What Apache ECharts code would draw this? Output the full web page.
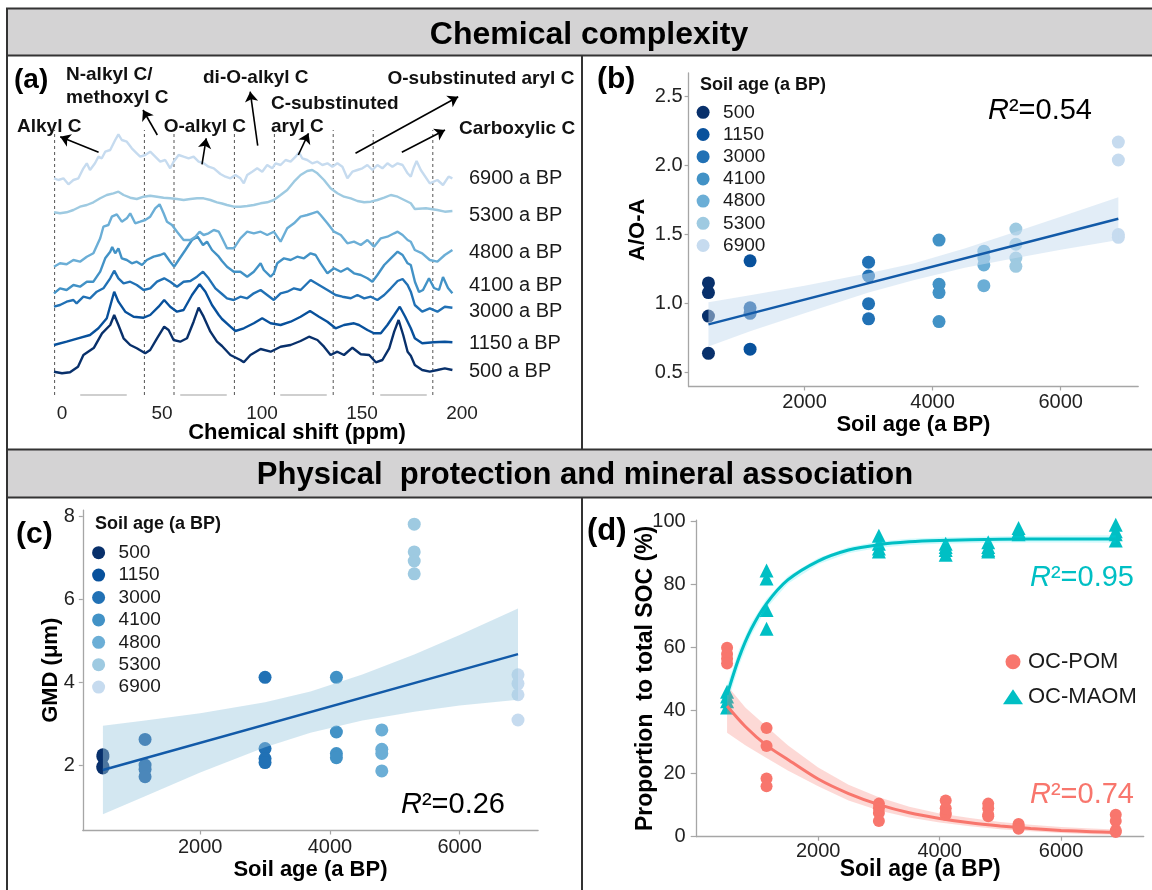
<!DOCTYPE html>
<html>
<head>
<meta charset="utf-8">
<title>Chemical complexity / physical protection</title>
<script src="https://cdn.jsdelivr.net/npm/echarts@6.0.0/dist/echarts.min.js"></script>
<style>
  html, body { margin: 0; padding: 0; background: #fff; }
  #chart { width: 1152px; height: 890px; }
</style>
</head>
<body>
<div id="chart"></div>
<script>
// ---- data ----
const ages = [500, 1150, 3000, 4100, 4800, 5300, 6900];
const ageNames = ages.map(String);
const blues = ['#08306b', '#08519c', '#2171b5', '#4292c6', '#6baed6', '#9ecae1', '#c6dbef'];

// (a) 13C NMR spectra, [ppm, relative intensity incl. stacking offset]
const spec500 = [[-4,28.3],[0,26.7],[4,27.7],[8,33.3],[10.7,45],[16,52.3],[20,66.7],[24.1,75],[26.1,85],[28.2,75],[30.8,61.7],[34.1,55],[37.4,51.7],[41.6,46.7],[44.1,50],[47.5,61.7],[51.1,73.3],[53.3,70],[55.8,60],[59.1,58.3],[62.5,61.7],[65.8,78.3],[68.3,92.3],[70.8,83.3],[74.2,68.3],[77.5,58.3],[80,54],[84.2,45],[89.2,40],[90.9,37.7],[94.2,45],[99.3,51],[104.3,48.3],[109.3,53.3],[114.3,55],[119.3,59],[123.5,63.3],[127.7,60],[131,53.3],[134.3,45],[137.7,48.3],[141,45],[145.2,52.3],[149.4,45.7],[153.6,45],[156.9,37.7],[160.2,40],[163.6,51.7],[166.1,68.3],[168.3,80],[170.6,65],[172.8,48.3],[174.4,44.3],[176.4,35],[180.1,30],[183.9,28.3],[187.7,30],[191.4,31.7],[195.2,30]];
const spec1150 = [[-4,55],[2.3,58.3],[8,61.7],[14,65],[18.2,71.7],[22.4,81.7],[24.7,98.3],[26.1,108.3],[28.2,98.3],[31.6,88.3],[35.8,83.3],[40.8,82.3],[44.1,85],[48.3,93.3],[51.1,100],[54.1,93.3],[57.5,88.3],[60.8,90],[65,105],[68.8,115.7],[71.7,108.3],[75,95],[78.4,85],[80,81],[84.2,73.3],[86.7,69],[90.9,71.7],[95.9,76.7],[100.1,81.7],[104.3,76.7],[109.3,75],[114.3,78.3],[119.3,83.3],[124,89],[128.5,83.3],[132.7,78.3],[136.8,71.7],[141,75],[146,76.7],[148.5,75],[152.7,70],[156,66.7],[159.4,66.7],[162.7,75],[166.1,85],[168.9,93.3],[171.6,83.3],[174.4,71.7],[176.4,61.7],[180.1,56.7],[185.8,57.7],[191.4,58.3],[195.2,57.7]];
const spec3000 = [[-4,93.3],[-1,95],[2.3,98.3],[5.7,100],[7.3,96.7],[10.7,103.3],[14,101.7],[17.4,108.3],[20.7,111.7],[24.1,121.7],[26.1,129.3],[28.2,121.7],[30.8,116.7],[34.1,118.3],[37.4,115],[40.8,110],[44.1,111.7],[47.5,118.3],[51.1,121.7],[54.1,118.3],[57.5,113.3],[60.8,118.3],[64.2,119],[67.5,123.3],[70.5,128.3],[73.3,121.7],[76.7,111.7],[80,106],[82.5,101.7],[85.9,100],[89.2,103.3],[92.6,101.7],[95.9,106.7],[99.3,110],[102.6,105],[105.9,100],[109.3,106.7],[112.6,108.3],[116,111.7],[119.3,110],[124.3,120],[128.5,115],[132.7,110],[136.8,105],[140.2,103.3],[144.4,101.7],[147.7,105],[151.1,101.7],[154.4,103.3],[157.7,100],[161.1,105],[164.4,111.7],[167.8,119],[170.3,121],[172.8,115],[174.4,108.3],[176.4,95],[180.1,88.3],[183.9,91.7],[187.7,88.3],[191.4,93.3],[195.2,92.3]];
const spec4100 = [[-4,106.7],[-1,111.7],[2.3,110],[5.7,115],[9,113.3],[12.4,118.3],[15.7,118.3],[19.1,128.3],[21.6,141.7],[24.1,148.3],[25.1,153],[26.6,146.7],[28.2,151.7],[29.9,141.7],[32.4,140],[34.9,136.7],[37.4,138.3],[40,135],[42.4,140],[45.8,143.3],[49.1,145],[51.1,146.7],[54.1,138.3],[56.1,133.3],[58.3,140],[61.7,150],[65,160],[67.8,163.3],[70.5,155],[72.5,158.3],[75,150],[78.4,143.3],[80,139],[82.5,133.3],[85.9,128.3],[89.2,128.3],[92.6,123.3],[95.9,128.3],[99.3,136.7],[100.9,130],[104.3,123.3],[105.9,126.7],[107.6,136.7],[111,141.7],[114.3,140],[117.6,143.3],[121,141.7],[124.3,146.7],[126.8,145],[129.3,136.7],[132.7,126.7],[136,131.7],[139.4,128.3],[142.7,131.7],[146,126.7],[149.4,125],[152.7,121.7],[155.2,118.3],[157.7,125],[161.1,135],[164.4,141.7],[167.8,148.3],[170.3,145],[172.8,136.7],[174.4,135],[176.5,118],[178.5,108],[180.5,110],[183.5,121.7],[186,112],[188.5,110],[190.5,123],[193,112],[195.2,106.7]];
const spec4800 = [[-4,133.3],[-1,136.7],[2.3,135.7],[5.7,140],[9,138.3],[12.4,143.3],[15.7,146.7],[19.1,161.7],[20.7,173.3],[23.2,175],[24.9,183.3],[27.4,185.7],[29.9,178.3],[32.4,181.7],[34.1,186.7],[36.6,176.7],[39.1,178.3],[41.6,180],[44.1,183.3],[46.6,191.7],[48.8,195.7],[50.8,186.7],[52.5,178.3],[55,175],[57.5,168.3],[60.8,160],[64.2,160],[66.7,163.3],[68.8,168.3],[70.8,165],[73.3,166.7],[75.9,170],[78.4,168.3],[80,162],[82.5,151.7],[85.9,151.7],[89.2,161.7],[92.6,168.3],[95.9,166.7],[99.3,168.3],[102.6,165],[105.9,168.3],[109.3,158.3],[112.6,171.7],[116,176.7],[119.3,183.3],[122.6,185],[125.1,186.7],[127.7,188.3],[129.3,185],[132.7,176.7],[136,168.3],[139.4,165],[142.7,156.7],[146,158.3],[149.4,155],[152.7,160],[156,153.3],[159.4,161.7],[162.7,163.3],[166.1,166.7],[167.8,168.3],[170.3,165],[172.8,160],[174.4,158.3],[176.4,150],[180.1,146.7],[183.9,140],[187.7,138.3],[191.4,145],[195.2,150]];
const spec5300 = [[-4,187.7],[-1,186.7],[2.3,187.7],[5.7,190],[9,193.3],[12.4,195],[15.7,197.7],[19.1,201.7],[22.4,205],[25.7,206.7],[28.2,208.3],[30.8,205],[34.1,202.3],[37.4,201],[40.8,203.3],[44.1,204.3],[47.5,203.3],[50.8,202.3],[54.1,201.7],[57.5,201],[60.8,200],[64.2,201],[67.5,201.7],[70.8,201.7],[74.2,200],[77.5,197.7],[80,196.5],[82.5,195],[85.9,193.3],[89.2,193.3],[92.6,194],[95.9,195],[99.3,196.7],[102.6,197.7],[105.9,200],[109.3,205],[112.6,210],[116,218.3],[119.3,225],[122.6,229],[125.1,230],[127.7,226.7],[131,220],[134.3,211.7],[137.7,206.7],[141,203.3],[144.4,201.7],[147.7,199],[151.1,197.7],[154.4,198.3],[157.7,200],[161.1,202.3],[164.4,205],[167.8,203.3],[171.1,200],[174.4,196.7],[176.4,191],[182,191.7],[187.7,190],[191.4,188.3],[195.2,189]];
const spec6900 = [[-4,221.7],[-1.8,220],[0.7,221.7],[3.2,215.7],[5.7,220],[8.2,221.7],[10.7,231.7],[12.4,236.7],[14,230],[16.5,236.7],[18.2,243.3],[19.9,241.7],[21.6,248.3],[24.1,250],[26.6,260],[28.2,265.7],[29.9,260],[32.4,258.3],[34.9,251.7],[37.4,246.7],[39.1,243.3],[41.6,245],[44.1,248.3],[46.6,243.3],[49.1,238.3],[51.6,240],[54.1,231.7],[55.8,238.3],[58.3,245],[60.8,243.3],[63.3,241.7],[65.8,243.3],[68.3,238.3],[70.8,236.7],[73.3,233.3],[75.9,231.7],[79.2,226],[81.7,223.3],[84.2,221.7],[86.7,225],[89.2,221.7],[90.9,216.7],[92.6,225],[95.1,228.3],[97.6,231.7],[100.1,228.3],[102.6,235],[105.1,231.7],[106.8,236.7],[109.3,235],[111.8,240],[114.3,238.3],[116.8,243.3],[118.5,247.7],[120.1,241.7],[122.6,240],[125.1,236.7],[127.7,238.3],[130.2,235],[132.7,236.7],[135.2,233.3],[137.7,236.7],[140.2,233.3],[142.7,221.7],[145.2,228.3],[147.7,230],[150.2,231.7],[152.7,235],[155.2,230],[157.7,235],[160.2,231.7],[162.7,236.7],[165.2,233.3],[167.8,236.7],[170.3,235],[172.8,226.7],[174.4,223.3],[175.8,232],[177.3,239],[179.4,230],[183.9,216.7],[187.7,220],[190.5,215],[193.3,223.3],[195.2,221.7]];
const spectra = [spec500, spec1150, spec3000, spec4100, spec4800, spec5300, spec6900];
const specLabels = ['500 a BP', '1150 a BP', '3000 a BP', '4100 a BP', '4800 a BP', '5300 a BP', '6900 a BP'];
const regionBounds = [-3.7, 41.2, 56, 86.2, 106.2, 135.6, 155.6, 185.4];
const ppmTicks = [0, 50, 100, 150, 200];

// (b) A/O-A ratio
const aoaByAge = [[1.15,1.08,0.91,0.64],[1.31,0.97,0.93,0.67],[1.30,1.20,1.00,0.89],[1.46,1.14,1.08,0.87],[1.38,1.33,1.28,1.13],[1.54,1.43,1.33,1.27],[2.17,2.04,1.50,1.48]];
const fitX = [500, 6900];
const aoaFit = [0.85, 1.615];
const bandX = [500, 1150, 2000, 3000, 3700, 4500, 5300, 6000, 6900];
const aoaLo = [0.69, 0.80, 0.93, 1.08, 1.17, 1.26, 1.33, 1.39, 1.46];
const aoaHi = [1.01, 1.06, 1.13, 1.22, 1.29, 1.40, 1.52, 1.63, 1.77];
const aoaTicks = [0.5, 1.0, 1.5, 2.0, 2.5];

// (c) GMD
const gmdByAge = [[2.25,2.2,1.97,1.93],[2.62,2.0,1.9,1.72],[4.12,2.40,2.16,2.06],[4.12,2.80,2.28,2.18],[2.85,2.38,2.28,1.86],[7.82,7.15,6.93,6.62],[4.18,3.97,3.70,3.09]];
const gmdFit = [1.88, 4.68];
const gmdLo = [0.81, 1.25, 1.82, 2.43, 2.78, 3.08, 3.29, 3.44, 3.58];
const gmdHi = [2.95, 3.08, 3.25, 3.52, 3.78, 4.19, 4.67, 5.14, 5.78];
const gmdTicks = [2, 4, 6, 8];

// (d) OC fractions
const pomByAge = [[60,58,56.5,55],[34.5,28.8,18.5,16],[10.5,9,7.5,5],[11.5,9,7.5,7],[10.5,9,7,6.5],[4,3.5,3,2.5],[7,5,2,1.5]];
const maomByAge = [[46,44.5,43,41],[84.5,82,72,66],[95.5,93,91.5,90.5],[93,92,91,89.5],[93.5,92,91,90.5],[98,97,96.5,96],[99,97,96,94]];
const pomCurveX = [500, 800, 1150, 1500, 2000, 2500, 3000, 3500, 4000, 4500, 5000, 5500, 6000, 6500, 6900];
const pomCurve = [41.5, 35, 29, 24.5, 18.3, 13.7, 10.2, 7.6, 5.8, 4.4, 3.4, 2.6, 2.0, 1.6, 1.3];
const pomLo = [33, 29, 25, 21, 16, 11.5, 8.3, 6.1, 4.5, 3.3, 2.4, 1.7, 1.2, 0.8, 0.6];
const pomHi = [48, 41, 35, 29, 22, 16.5, 12.5, 9.5, 7.4, 5.9, 4.7, 3.8, 3.1, 2.6, 2.3];
const maomCurveX = [500, 700, 900, 1150, 1500, 2000, 2500, 3000, 3500, 4000, 5000, 6000, 6900];
const maomCurve = [45, 57, 66, 74, 81.5, 87.5, 91, 92.7, 93.6, 94, 94.4, 94.5, 94.5];
const maomLo = [42, 54.5, 64, 72.5, 80.3, 86.5, 90, 91.7, 92.6, 93, 93.4, 93.4, 93.3];
const maomHi = [48, 59.5, 68, 75.5, 82.7, 88.5, 92, 93.7, 94.6, 95, 95.4, 95.6, 95.7];
const socTicks = [0, 20, 40, 60, 80, 100];
const ageTicks = [2000, 4000, 6000];

// ---- chart ----
const FONT = '"Liberation Sans", Arial, Helvetica, sans-serif';
const AXIS_GRAY = '#a6a6a6';
const chart = echarts.init(document.getElementById('chart'));

function sciAxis(gridIndex, min, max, ticks, extra) {
  return Object.assign({
    type: 'value', gridIndex, min, max,
    splitLine: { show: false },
    axisLine: { show: true, onZero: false, lineStyle: { color: AXIS_GRAY, width: 1.3 } },
    axisTick: { show: true, length: 4, customValues: ticks, lineStyle: { color: AXIS_GRAY, width: 1.2 } },
    nameLocation: 'middle',
    nameMoveOverlap: false,
    nameTextStyle: { fontSize: 22, fontWeight: 'bold', color: '#000', fontFamily: FONT }
  }, extra);
}
function tickLabels(ticks, margin, fmt) {
  return { customValues: ticks, margin, fontSize: 20, color: '#222', fontFamily: FONT,
    formatter: fmt || (v => String(v)) };
}

function band(axisIndex, xs, lo, hi, fill) {
  return {
    type: 'custom', xAxisIndex: axisIndex, yAxisIndex: axisIndex, silent: true, z: 3,
    data: [0],
    renderItem: (params, api) => {
      const top = xs.map((x, i) => api.coord([x, hi[i]]));
      const bottom = xs.map((x, i) => api.coord([x, lo[i]])).reverse();
      return { type: 'polygon', shape: { points: top.concat(bottom) }, style: { fill } };
    }
  };
}

const series = [];

// (a) region boundaries + arrows
const arrows = [
  [98.6, 152.3, 60.2, 136.7], [157.3, 135, 143, 110], [202, 164.3, 206.2, 138.3],
  [257.7, 145.7, 250.2, 91.7], [298.3, 155, 308.5, 133.3], [355.5, 153.3, 458.2, 96.7],
  [401.8, 152.3, 445, 130]
];
regionBounds.forEach((b, i) => {
  const s = {
    type: 'line', xAxisIndex: 0, yAxisIndex: 0, z: 1, silent: true, showSymbol: false,
    data: [[b, 5], [b, 270]],
    lineStyle: { color: '#555', width: 1, type: [3, 3] }
  };
  if (i === 0) {
    s.clip = false;
    s.markLine = {
      silent: true, symbol: ['none', 'arrow'], symbolSize: 10, animation: false,
      label: { show: false },
      lineStyle: { color: '#000', width: 1.6, type: 'solid' },
      data: arrows.map(a => [{ x: a[0], y: a[1] }, { x: a[2], y: a[3] }])
    };
  }
  series.push(s);
});
spectra.forEach((d, i) => {
  series.push({
    type: 'line', name: specLabels[i], xAxisIndex: 0, yAxisIndex: 0, z: 2,
    showSymbol: false, silent: true, data: d,
    lineStyle: { color: blues[i], width: 2.4 }
  });
});

// (b) and (c) scatter
ages.forEach((a, i) => {
  series.push({
    type: 'scatter', name: ageNames[i], xAxisIndex: 1, yAxisIndex: 1, z: 2,
    symbolSize: 13, data: aoaByAge[i].map(v => [a, v]),
    itemStyle: { color: blues[i], opacity: 1 }
  });
  series.push({
    type: 'scatter', name: ageNames[i], xAxisIndex: 2, yAxisIndex: 2, z: 2,
    symbolSize: 13, data: gmdByAge[i].map(v => [a, v]),
    itemStyle: { color: blues[i], opacity: 1 }
  });
});
series.push(band(1, bandX, aoaLo, aoaHi, 'rgba(198,219,239,0.5)'));
series.push(band(2, bandX, gmdLo, gmdHi, 'rgba(158,202,225,0.45)'));
series.push({
  type: 'line', name: 'fitB', xAxisIndex: 1, yAxisIndex: 1, z: 4, showSymbol: false, silent: true,
  data: fitX.map((x, i) => [x, aoaFit[i]]), lineStyle: { color: '#125aa8', width: 2.5 }
});
series.push({
  type: 'line', name: 'fitC', xAxisIndex: 2, yAxisIndex: 2, z: 4, showSymbol: false, silent: true,
  data: fitX.map((x, i) => [x, gmdFit[i]]), lineStyle: { color: '#125aa8', width: 2.5 }
});

// (d)
series.push({
  type: 'scatter', name: 'OC-POM', xAxisIndex: 3, yAxisIndex: 3, z: 2, symbol: 'circle', symbolSize: 12,
  data: ages.flatMap((a, i) => pomByAge[i].map(v => [a, v])), itemStyle: { color: '#f8766d', opacity: 1 }
});
series.push({
  type: 'scatter', name: 'OC-MAOM', xAxisIndex: 3, yAxisIndex: 3, z: 2, symbol: 'triangle', symbolSize: 14,
  data: ages.flatMap((a, i) => maomByAge[i].map(v => [a, v])), itemStyle: { color: '#00bfc4', opacity: 1 }
});
series.push(band(3, pomCurveX, pomLo, pomHi, 'rgba(248,118,109,0.28)'));
series.push(band(3, maomCurveX, maomLo, maomHi, 'rgba(0,229,238,0.18)'));
series.push({
  type: 'line', name: 'fitPOM', xAxisIndex: 3, yAxisIndex: 3, z: 4, showSymbol: false, silent: true, smooth: 0.3,
  data: pomCurveX.map((x, i) => [x, pomCurve[i]]), lineStyle: { color: '#f8766d', width: 3 }
});
series.push({
  type: 'line', name: 'fitMAOM', xAxisIndex: 3, yAxisIndex: 3, z: 4, showSymbol: false, silent: true, smooth: 0.3,
  data: maomCurveX.map((x, i) => [x, maomCurve[i]]), lineStyle: { color: '#00bfc4', width: 3 }
});

// ---- decorations ----
function txt(x, y, text, size, extra) {
  return {
    type: 'text', x, y, silent: true, z: 100,
    style: Object.assign({ text, fontSize: size, fontFamily: FONT, fill: '#111', align: 'left', verticalAlign: 'middle' }, extra)
  };
}
function bold(x, y, text, size, extra) {
  return txt(x, y, text, size, Object.assign({ fontWeight: 'bold' }, extra));
}
function r2(x, y, val, color) {
  return txt(x, y, `{r|R}{n|²=${val}}`, 29, {
    fill: color,
    rich: {
      r: { fontStyle: 'italic', fontSize: 29, fill: color, fontFamily: FONT },
      n: { fontSize: 29, fill: color, fontFamily: FONT }
    }
  });
}
function vline(x, y1, y2) {
  return { type: 'line', silent: true, z: 100, shape: { x1: x, y1, x2: x, y2 }, style: { stroke: '#333', lineWidth: 2 } };
}

const specLabelY = [371, 343.3, 311.7, 285.7, 252.3, 215.7, 178.3];

const graphics = [
  { type: 'rect', silent: true, z: 99, shape: { x: 7, y: 8.5, width: 1150, height: 47 }, style: { fill: '#d4d3d4', stroke: '#333', lineWidth: 2 } },
  { type: 'rect', silent: true, z: 99, shape: { x: 7, y: 449.5, width: 1150, height: 48 }, style: { fill: '#d4d3d4', stroke: '#333', lineWidth: 2 } },
  vline(7, 8.5, 890),
  vline(582, 55.5, 449.5),
  vline(582, 497.5, 890),
  bold(589, 35.5, 'Chemical complexity', 32, { align: 'center', fill: '#000' }),
  bold(585, 475, 'Physical  protection and mineral association', 31, { align: 'center', fill: '#000' }),
  // panel letters
  bold(14, 80, '(a)', 28, { fill: '#000' }),
  bold(597, 80, '(b)', 30, { fill: '#000' }),
  bold(16, 535, '(c)', 30, { fill: '#000' }),
  bold(587, 531, '(d)', 31, { fill: '#000' }),
  // (a) annotations
  bold(66, 75, 'N-alkyl C/', 19),
  bold(66, 97.7, 'methoxyl C', 19),
  bold(203, 77.7, 'di-O-alkyl C', 19),
  bold(387.5, 79, 'O-substinuted aryl C', 19),
  bold(271, 103.3, 'C-substinuted', 19),
  bold(271, 126.7, 'aryl C', 19),
  bold(17, 126.7, 'Alkyl C', 19),
  bold(163.7, 126.7, 'O-alkyl C', 19),
  bold(459, 129, 'Carboxylic C', 19),
  bold(297, 433, 'Chemical shift (ppm)', 22, { align: 'center', fill: '#000' }),
  // legend titles
  bold(700, 85, 'Soil age (a BP)', 18),
  bold(95, 524, 'Soil age (a BP)', 18),
  // R2 labels
  r2(988, 111, '0.54', '#000'),
  r2(401, 805, '0.26', '#000'),
  r2(1030, 578, '0.95', '#00bfc4'),
  r2(1030, 795, '0.74', '#f8766d')
];
specLabels.forEach((t, i) => graphics.push(txt(469, specLabelY[i], t, 20, { fill: '#1a1a1a' })));

const legendText = (size) => ({ fontSize: size, lineHeight: 22, color: '#1a1a1a', fontFamily: FONT });

const option = {
  animation: false,
  backgroundColor: '#fff',
  textStyle: { fontFamily: FONT },
  grid: [
    { left: 53, top: 60, width: 409, height: 335, outerBoundsMode: 'none' },
    { left: 688.6, top: 73, width: 449.6, height: 313.5, outerBoundsMode: 'none' },
    { left: 82.8, top: 510.1, width: 455.3, height: 320.4, outerBoundsMode: 'none' },
    { left: 696.7, top: 520.1, width: 447, height: 316.6, outerBoundsMode: 'none' }
  ],
  xAxis: [
    {
      type: 'value', gridIndex: 0, min: -4.5, max: 200,
      splitLine: { show: false }, axisTick: { show: false },
      axisLine: { show: true, onZero: false, lineStyle: { color: '#cfcfcf', width: 2, type: [45, 55], dashOffset: 72 } },
      axisLabel: { customValues: ppmTicks, fontSize: 19, color: '#222', margin: 9, fontFamily: FONT, formatter: v => String(v) }
    },
    sciAxis(1, 190, 7210, ageTicks, { name: 'Soil age (a BP)', nameGap: 27, axisLabel: tickLabels(ageTicks, 6) }),
    sciAxis(2, 190, 7210, ageTicks, { name: 'Soil age (a BP)', nameGap: 28, axisLabel: tickLabels(ageTicks, 7) }),
    sciAxis(3, 0, 7360, ageTicks, { name: 'Soil age (a BP)', nameGap: 21, axisLabel: tickLabels(ageTicks, 5),
      nameTextStyle: { fontSize: 23, fontWeight: 'bold', color: '#000', fontFamily: FONT } })
  ],
  yAxis: [
    { type: 'value', gridIndex: 0, min: 5, max: 340, show: false },
    sciAxis(1, 0.4, 2.67, aoaTicks, { name: 'A/O-A', nameGap: 40, axisLabel: tickLabels(aoaTicks, 6, v => v.toFixed(1)) }),
    sciAxis(2, 0.42, 8.16, gmdTicks, { name: 'GMD (μm)', nameGap: 21, axisLabel: tickLabels(gmdTicks, 8) }),
    sciAxis(3, 0, 100.5, socTicks, { name: 'Proportion  to total SOC (%)', nameGap: 40,
      axisTick: { show: true, length: 6, customValues: socTicks, lineStyle: { color: AXIS_GRAY, width: 1.2 } },
      axisLabel: tickLabels(socTicks, 11),
      nameTextStyle: { fontSize: 23, fontWeight: 'bold', color: '#000', fontFamily: FONT } })
  ],
  legend: [
    { data: ageNames, orient: 'vertical', left: 696.6, top: 101.3, padding: 0, itemWidth: 30, itemHeight: 13,
      itemGap: 0.2, icon: 'circle', selectedMode: false, textStyle: legendText(19) },
    { data: ageNames, orient: 'vertical', left: 92.1, top: 541.7, padding: 0, itemWidth: 30, itemHeight: 13,
      itemGap: 0.4, icon: 'circle', selectedMode: false, textStyle: legendText(19) },
    { data: ['OC-POM', 'OC-MAOM'], orient: 'vertical', left: 1003, top: 650.7, padding: 0, itemWidth: 20, itemHeight: 15,
      itemGap: 13, selectedMode: false, textStyle: legendText(22) }
  ],
  graphic: { elements: graphics },
  series
};
chart.setOption(option);
</script>
</body>
</html>
